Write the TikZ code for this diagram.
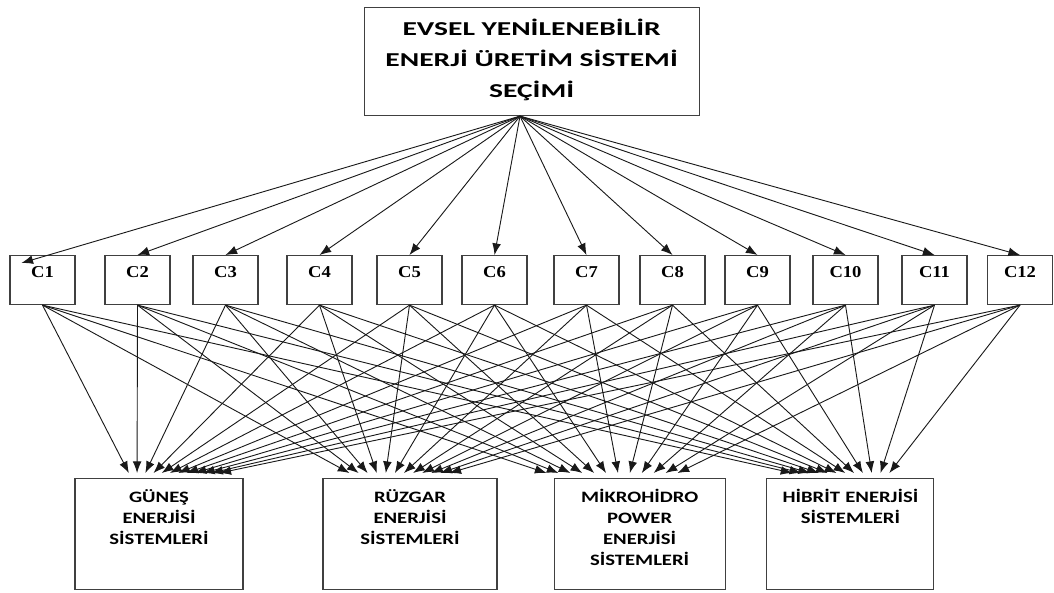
\documentclass[tikz,border=0pt]{standalone}
\usepackage{fontspec}
\setmainfont{Carlito}
\newfontfamily\titlefont[FakeStretch=1.5]{Carlito}
\newfontfamily\altfont[FakeStretch=1.3]{Carlito}
\newfontfamily\critfont[FakeStretch=1.12]{Liberation Serif}
\usetikzlibrary{arrows.meta,calc}

\begin{document}
\begin{tikzpicture}[>={Latex[length=2.9mm,width=2.2mm]}]

      \useasboundingbox (0,0) rectangle (26.35,-14.8);

      % goal
      \node[draw, line width=.8pt, draw=black!75, anchor=north, inner sep=0pt,
            minimum width=8.375cm, text width=8.375cm, align=center,
            text height=0.7cm, text depth=2.0cm,
            font=\titlefont\bfseries\fontsize{14}{22}\selectfont]
            (T) at (13.29,-0.175) {EVSEL YENİLENEBİLİR\\ENERJİ ÜRETİM SİSTEMİ\\SEÇİMİ};

      % criteria
      \begin{scope}[every node/.style={draw, line width=.8pt, draw=black!75, anchor=north,
            inner sep=0pt, minimum width=1.625cm, text height=0.55cm, text depth=0.675cm,
            font=\critfont\bfseries\fontsize{11.8}{14}\selectfont}]
        \foreach \i/\x in {1/1.0625, 2/3.4375, 3/5.6375, 4/7.9875, 5/10.2375, 6/12.3625,
                           7/14.6625, 8/16.8125, 9/18.9375, 10/21.1375, 11/23.3625, 12/25.5}
          \node (C\i) at (\x,-6.375) {C\i};
      \end{scope}

      % alternatives
      \begin{scope}[every node/.style={draw, line width=.8pt, draw=black!75, anchor=north,
            inner sep=0pt, align=center, text height=0.6cm, text depth=2.175cm,
            font=\altfont\bfseries\fontsize{11.3}{15}\selectfont}]
        \node[text width=4.2cm]   (G) at (3.975,-11.95)  {GÜNEŞ\\ENERJİSİ\\SİSTEMLERİ};
        \node[text width=4.35cm]  (R) at (10.25,-11.95)  {RÜZGAR\\ENERJİSİ\\SİSTEMLERİ};
        \node[text width=4.275cm] (M) at (15.99,-11.95)  {MİKROHİDRO\\POWER\\ENERJİSİ\\SİSTEMLERİ};
        \node[text width=4.175cm] (H) at (21.26,-11.95)  {HİBRİT ENERJİSİ\\SİSTEMLERİ};
      \end{scope}

      \coordinate (src) at ($(T.south)+(-0.29,0)$);
      \coordinate (c1tip) at ($(C1.north west)+(0.3,-0.2)$);

      \begin{scope}[every path/.style={draw=black!90, line width=.65pt}]
        \draw[->] (src) -- (c1tip);
        \foreach \i in {2,...,12}
          \draw[->] (src) -- (C\i.north);

        \foreach \t/\a/\b in {G/1.36/3.625, R/0.675/3.175, M/-0.175/3.1, H/0.65/3.075}
          \foreach \i in {1,...,12}{
            \pgfmathsetmacro\f{\a+(\b-\a)*(\i-1)/11}
            \draw[->] (C\i.south) -- ($(\t.north west)+(\f,0.125)$);
          }
      \end{scope}

    \end{tikzpicture}
\end{document}
